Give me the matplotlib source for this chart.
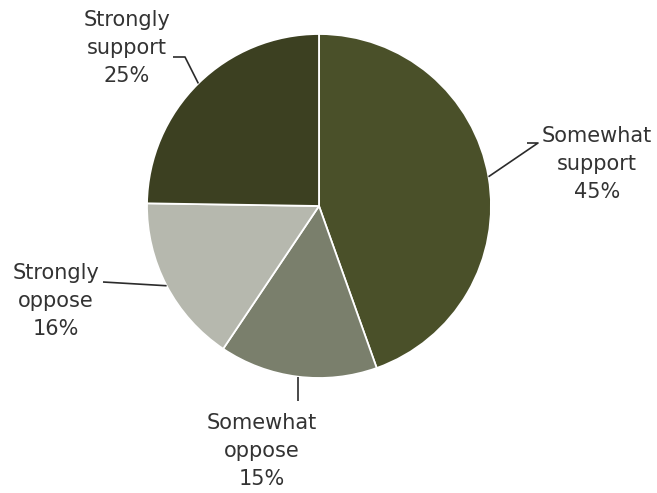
import matplotlib.pyplot as plt
import numpy as np

labels = ['Somewhat\nsupport', 'Somewhat\noppose', 'Strongly\noppose', 'Strongly\nsupport']
shares = [45, 15, 16, 25]
colors = ['#4a5029', '#7a7f6c', '#b6b8ae', '#3c4021']

W, H = 657, 493
fig = plt.figure(figsize=(W / 100, H / 100), dpi=100)
ax = fig.add_axes([0, 0, 1, 1])

cx, cy, r = 319, H - 206, 172
wedges, _ = ax.pie(shares, colors=colors, startangle=90, counterclock=False,
                   center=(cx, cy), radius=r, frame=True,
                   wedgeprops=dict(edgecolor='white', linewidth=1.3))
ax.set_xlim(0, W)
ax.set_ylim(0, H)
ax.set_aspect('equal')
ax.axis('off')

# text centre (x, y from top) and elbow points of the leader line
label_pos = [(597, 164), (262, 451), (56, 301), (127, 48)]
elbows = [[(538, 143), (527, 143)],
          [(None, 401)],
          [(103, 282)],
          [(185, 57), (173, 57)]]

for w, lab, s, (tx, ty), elb in zip(wedges, labels, shares, label_pos, elbows):
    ang = np.deg2rad((w.theta1 + w.theta2) / 2)
    px, py = cx + r * np.cos(ang), cy + r * np.sin(ang)
    xs = [px] + [px if e[0] is None else e[0] for e in elb]
    ys = [py] + [H - e[1] for e in elb]
    ax.plot(xs, ys, color='#2b2b2b', lw=1.2, solid_capstyle='butt')
    ax.text(tx, H - ty, f'{lab}\n{s}%', ha='center', va='center',
            fontsize=15, color='#333333', linespacing=1.48)

fig.savefig('out.png', dpi=100)
